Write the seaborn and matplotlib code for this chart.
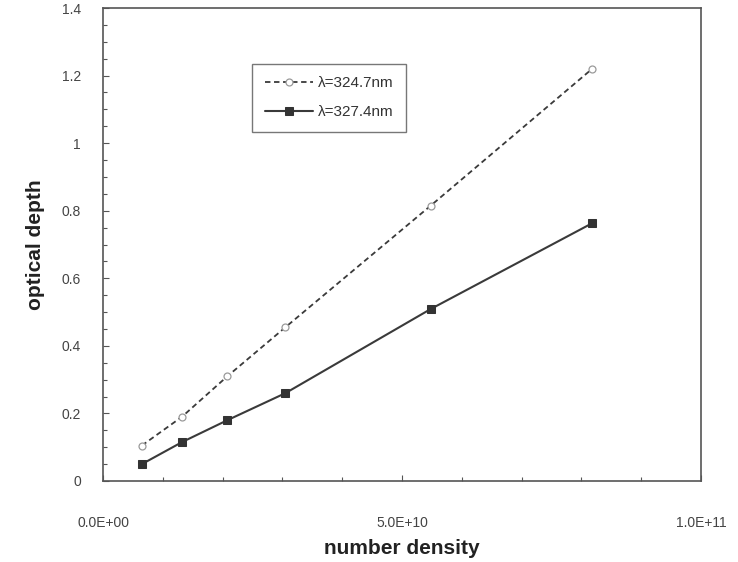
import matplotlib
matplotlib.use("Agg")
import matplotlib.pyplot as plt
import matplotlib.ticker as mticker
import seaborn as sns
import pandas as pd
import numpy as np

# Data (number density in cm^-3, optical depth)
density = [0.65e10, 1.32e10, 2.08e10, 3.05e10, 5.48e10, 8.18e10]
od_3247 = [0.105, 0.19, 0.31, 0.455, 0.815, 1.22]
od_3274 = [0.050, 0.115, 0.180, 0.260, 0.509, 0.763]
labels = ["λ=324.7nm", "λ=327.4nm"]
x_ticks = [0.0, 5.0e10, 1.0e11]
x_ticklabels = ["0.0E+00", "5.0E+10", "1.0E+11"]
y_ticks = [0, 0.2, 0.4, 0.6, 0.8, 1.0, 1.2, 1.4]
y_ticklabels = ["0", "0.2", "0.4", "0.6", "0.8", "1", "1.2", "1.4"]

sns.set_theme(style="white")
plt.rcParams['font.family'] = ['Liberation Sans', 'DejaVu Sans']

fig = plt.figure(figsize=(7.38, 5.62), dpi=100)
ax = fig.add_axes([103/738, 1 - 481/562, 598/738, 473/562])

df1 = pd.DataFrame({"x": density, "y": od_3247})
df2 = pd.DataFrame({"x": density, "y": od_3274})

sns.lineplot(data=df1, x="x", y="y", ax=ax, color="#3a3a3a", linewidth=1.3,
             linestyle=(0, (3, 2)), marker="o", markersize=5,
             markerfacecolor="white", markeredgecolor="#9a9a9a",
             markeredgewidth=0.9, label=labels[0])
sns.lineplot(data=df2, x="x", y="y", ax=ax, color="#3a3a3a", linewidth=1.5,
             marker="s", markersize=6, markerfacecolor="#333333",
             markeredgecolor="#333333", label=labels[1])

ax.set_xlim(0, 1.0e11)
ax.set_ylim(0, 1.4)
ax.set_xticks(x_ticks)
ax.set_xticklabels(x_ticklabels)
ax.set_yticks(y_ticks)
ax.set_yticklabels(y_ticklabels)
ax.xaxis.set_minor_locator(mticker.MultipleLocator(1.0e10))
ax.yaxis.set_minor_locator(mticker.MultipleLocator(0.05))
ax.tick_params(axis="both", which="both", direction="in", colors="#555555",
               labelsize=10, left=True, bottom=True)
ax.tick_params(axis="both", which="major", length=4, width=0.8)
ax.tick_params(axis="both", which="minor", length=3, width=0.8)
ax.tick_params(axis="x", which="major", pad=25)
ax.tick_params(axis="y", which="major", pad=16)
for t in ax.get_xticklabels() + ax.get_yticklabels():
    t.set_color("#444444")

for s in ax.spines.values():
    s.set_color("#555555")
    s.set_linewidth(1.2)

ax.set_xlabel("number density", fontsize=15, fontweight="bold", color="#222222", labelpad=7)
ax.set_ylabel("optical depth", fontsize=15, fontweight="bold", color="#222222", labelpad=12)

leg = ax.legend(loc="upper left", bbox_to_anchor=(0.237, 0.898), frameon=True,
                fancybox=False, fontsize=11, handlelength=3.2,
                borderpad=0.8, labelspacing=1.0, handletextpad=0.3)
leg.get_frame().set_edgecolor("#555555")
leg.get_frame().set_linewidth(1.0)
for t in leg.get_texts():
    t.set_color("#333333")

fig.savefig("out.png", dpi=100)
